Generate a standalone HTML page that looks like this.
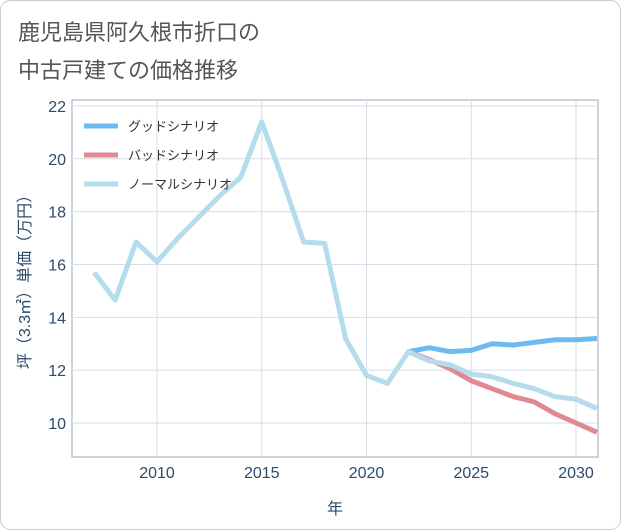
<!DOCTYPE html>
<html><head><meta charset="utf-8"><style>
body{margin:0;background:#fff;font-family:"Liberation Sans","Noto Sans CJK JP",sans-serif}
#wrap{position:relative;width:621px;height:530px;}
</style></head><body>
<div id="wrap">
<svg id="chart" width="621" height="530" style="position:absolute;left:0;top:0">
<rect x="0.5" y="0.5" width="620" height="529" rx="10" fill="#fff" stroke="#ccc"/>
<text x="18" y="40" font-size="22" fill="#555">鹿児島県阿久根市折口の</text>
<text x="18" y="78" font-size="22" fill="#555">中古戸建ての価格推移</text>
<rect x="72" y="100" width="526" height="357" fill="none" stroke="#9aa8b5"/>
<g id="grid"></g><g id="series"></g>
<text transform="translate(30,278) rotate(-90)" text-anchor="middle" font-size="16" fill="#2c4a6b">坪（3.3㎡）単価（万円）</text>
<text x="335" y="514" text-anchor="middle" font-size="16" fill="#2c4a6b">年</text>
<g>
<line x1="84" y1="126" x2="118" y2="126" stroke="#6bbaf0" stroke-width="5"/>
<text x="128" y="131" font-size="13" fill="#333">グッドシナリオ</text>
<line x1="84" y1="155" x2="118" y2="155" stroke="#df8a90" stroke-width="5"/>
<text x="128" y="160" font-size="13" fill="#333">バッドシナリオ</text>
<line x1="84" y1="184" x2="118" y2="184" stroke="#b5dcec" stroke-width="5"/>
<text x="128" y="189" font-size="13" fill="#333">ノーマルシナリオ</text>
</g>
</svg>
</div>
<script>
const yTicks=[10,12,14,16,18,20,22];
const xTicks=[2010,2015,2020,2025,2030];
const normalYears=[2007,2008,2009,2010,2011,2012,2013,2014,2015,2016,2017,2018,2019,2020,2021,2022,2023,2024,2025,2026,2027,2028,2029,2030,2031];
const normalValues=[15.7,14.65,16.85,16.1,17.0,17.8,18.6,19.3,21.4,19.2,16.85,16.8,13.2,11.8,11.5,12.7,12.35,12.2,11.85,11.75,11.5,11.3,11.0,10.9,10.55];
const scenYears=[2022,2023,2024,2025,2026,2027,2028,2029,2030,2031];
const goodValues=[12.7,12.85,12.7,12.75,13.0,12.95,13.05,13.15,13.15,13.2];
const badValues=[12.7,12.4,12.05,11.6,11.3,11.0,10.8,10.35,10.0,9.65];
const NS='http://www.w3.org/2000/svg';
const xS=y=>157+(y-2010)*20.95;
const yS=v=>423-(v-10)*26.42;
const grid=document.getElementById('grid'),ser=document.getElementById('series');
function mk(tag,at,parent){const e=document.createElementNS(NS,tag);for(const k in at)e.setAttribute(k,at[k]);parent.appendChild(e);return e;}
yTicks.forEach(t=>{
 const l=mk('line',{x1:72,x2:598,y1:yS(t),y2:yS(t),stroke:'#d5dee6'},grid);
 
 
 const tx=mk('text',{x:66,y:yS(t)+6,'text-anchor':'end','font-size':16,fill:'#2c4a6b'},grid);tx.textContent=t;
 
 
});
xTicks.forEach(t=>{
 const l=mk('line',{x1:xS(t),x2:xS(t),y1:100,y2:457,stroke:'#d5dee6'},grid);
 
 
 const tx=mk('text',{x:xS(t),y:478,'text-anchor':'middle','font-size':16,fill:'#2c4a6b'},grid);tx.textContent=t;
 
 
});
function line(xs,vs,color,name){
 const p=mk('polyline',{points:xs.map((y,i)=>xS(y)+','+yS(vs[i])).join(' '),fill:'none',stroke:color,'stroke-width':5,'stroke-linejoin':'round'},ser);
 
 
}
line(scenYears,badValues,'#df8a90','bad-scenario-line');
line(scenYears,goodValues,'#6bbaf0','good-scenario-line');
line(normalYears,normalValues,'#b5dcec','normal-scenario-line');
</script>
</body></html>
